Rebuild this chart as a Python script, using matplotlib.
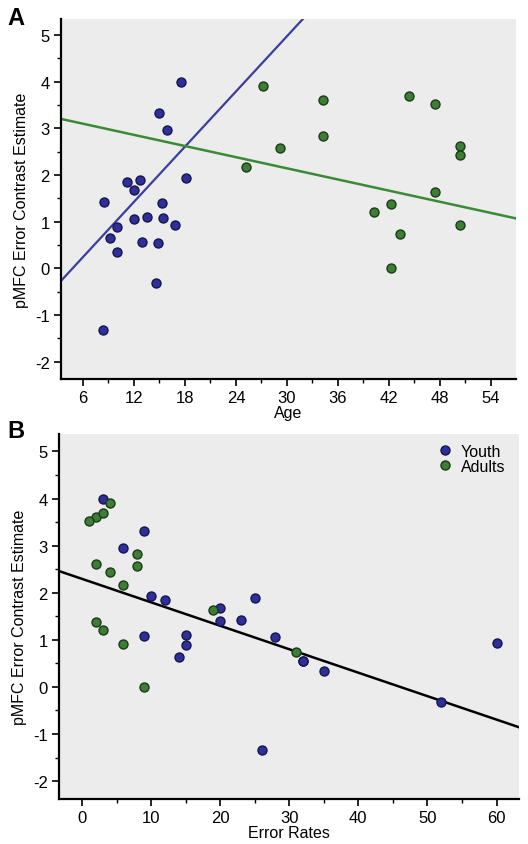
import matplotlib
matplotlib.use("Agg")
import matplotlib.pyplot as plt
import numpy as np
from matplotlib.ticker import MultipleLocator
from matplotlib.lines import Line2D

plt.rcParams["font.family"] = ["Liberation Sans", "DejaVu Sans"]
plt.rcParams["axes.unicode_minus"] = False

# Youth subjects: age, pMFC error contrast estimate, error rate (%)
youth_age = [17.5, 14.9, 15.9, 18.1, 11.2, 12.7, 12.05, 8.45, 15.25, 12.05,
             13.55, 15.4, 16.8, 10.0, 9.15, 12.9, 14.8, 10.0, 14.55, 8.35]
youth_pmfc = [4.00, 3.32, 2.96, 1.93, 1.84, 1.89, 1.67, 1.43, 1.41, 1.06,
              1.10, 1.08, 0.93, 0.89, 0.64, 0.56, 0.54, 0.34, -0.32, -1.33]
youth_err = [3, 9, 6, 10, 12, 25, 20, 23, 20, 28,
             15, 9, 60, 15, 14, 32, 32, 35, 52, 26]

# Adult subjects
adult_age = [27.2, 34.25, 44.35, 47.4, 34.25, 29.2, 25.15, 50.4, 50.4, 47.4,
             42.3, 40.3, 43.3, 50.4, 42.3]
adult_pmfc = [3.91, 3.60, 3.69, 3.52, 2.83, 2.57, 2.16, 2.62, 2.43, 1.64,
              1.38, 1.21, 0.74, 0.92, 0.00]
adult_err = [4, 2, 3, 1, 8, 8, 6, 2, 4, 19,
             2, 3, 31, 6, 9]

# Fit lines (intercept, slope) as drawn
youth_fit = (-0.94, 0.197)
adult_fit = (3.336, -0.0398)
err_fit = (2.294, -0.0498)

YOUTH_FC, YOUTH_EC = "#2f2f99", "#15154d"
ADULT_FC, ADULT_EC = "#3e7d36", "#1b3a17"
BG = "#ececec"

fig = plt.figure(figsize=(5.28, 8.45), dpi=100)
axA = fig.add_axes([61/528, 1-380/845, (516-61)/528, 360/845])
axB = fig.add_axes([59/528, 1-800/845, (519.3-59)/528, 365/845])


def style(ax):
    ax.set_facecolor(BG)
    for s in ("top", "right"):
        ax.spines[s].set_visible(False)
    for s in ("left", "bottom"):
        ax.spines[s].set_linewidth(1.6)
        ax.spines[s].set_color("black")
    ax.tick_params(which="major", direction="out", length=5, width=1.2,
                   labelsize=12, pad=3)
    ax.tick_params(which="minor", direction="out", length=3, width=1.0)
    ax.yaxis.set_major_locator(MultipleLocator(1))
    ax.yaxis.set_minor_locator(MultipleLocator(0.5))
    ax.set_ylabel("pMFC Error Contrast Estimate", fontsize=11.5, labelpad=4)


# Panel A
style(axA)
xlimA = (3.41, 56.96)
axA.set_xlim(*xlimA)
axA.set_ylim(-2.37, 5.34)
axA.xaxis.set_major_locator(MultipleLocator(6))
axA.xaxis.set_minor_locator(MultipleLocator(3))
xx = np.array(xlimA)
axA.plot(xx, youth_fit[0] + youth_fit[1] * xx, color="#3d3d9e", lw=1.6, zorder=2)
axA.plot(xx, adult_fit[0] + adult_fit[1] * xx, color="#3b8a35", lw=1.8, zorder=2)
axA.scatter(youth_age, youth_pmfc, s=42, c=YOUTH_FC, edgecolors=YOUTH_EC,
            linewidths=1.0, zorder=3)
axA.scatter(adult_age, adult_pmfc, s=42, c=ADULT_FC, edgecolors=ADULT_EC,
            linewidths=1.0, zorder=3)
axA.set_xlabel("Age", fontsize=11.5, labelpad=0)

# Panel B
style(axB)
xlimB = (-3.33, 63.3)
axB.set_xlim(*xlimB)
axB.set_ylim(-2.38, 5.37)
axB.xaxis.set_major_locator(MultipleLocator(10))
axB.xaxis.set_minor_locator(MultipleLocator(5))
xx = np.array(xlimB)
axB.plot(xx, err_fit[0] + err_fit[1] * xx, color="black", lw=1.8, zorder=2)
axB.scatter(youth_err, youth_pmfc, s=42, c=YOUTH_FC, edgecolors=YOUTH_EC,
            linewidths=1.0, zorder=3)
axB.scatter(adult_err, adult_pmfc, s=42, c=ADULT_FC, edgecolors=ADULT_EC,
            linewidths=1.0, zorder=3)
axB.set_xlabel("Error Rates", fontsize=11.5, labelpad=0)

handles = [
    Line2D([0], [0], marker="o", ls="none", markersize=6.5,
           markerfacecolor=YOUTH_FC, markeredgecolor=YOUTH_EC, label="Youth"),
    Line2D([0], [0], marker="o", ls="none", markersize=6.5,
           markerfacecolor=ADULT_FC, markeredgecolor=ADULT_EC, label="Adults"),
]
axB.legend(handles=handles, loc="upper right", frameon=False, fontsize=11.5,
           handletextpad=0.0, labelspacing=0.0, borderaxespad=0.2,
           bbox_to_anchor=(0.99, 1.0))

fig.text(7/528, 1-25/845, "A", fontsize=17, fontweight="bold", ha="left", va="baseline")
fig.text(7/528, 1-438/845, "B", fontsize=17, fontweight="bold", ha="left", va="baseline")

fig.savefig("out.png", dpi=100, facecolor="white")
